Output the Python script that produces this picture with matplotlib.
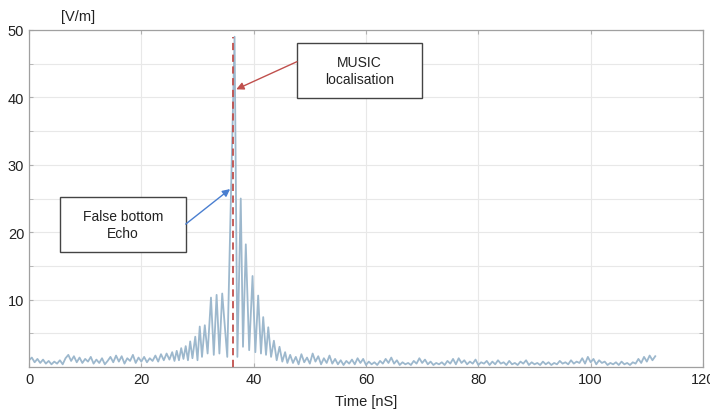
import matplotlib
matplotlib.use("Agg")
import matplotlib.pyplot as plt
from matplotlib.patches import Rectangle
from matplotlib.ticker import MultipleLocator
import numpy as np

plt.rcParams['font.family'] = ['Liberation Sans', 'DejaVu Sans']

# early noise, 0 .. 25 ns every 0.5 ns
t_left = np.arange(0.0, 25.01, 0.5)
e_left = [1.0, 1.4, 0.7, 1.2, 0.6, 1.1, 0.5, 0.9, 0.4, 0.8,
          0.5, 1.0, 0.4, 1.3, 1.8, 0.9, 1.6, 0.7, 1.4, 0.6,
          1.2, 0.8, 1.5, 0.5, 1.1, 0.6, 1.3, 0.4, 0.9, 1.5,
          0.7, 1.7, 0.8, 1.6, 0.5, 1.3, 0.9, 1.8, 0.6, 1.4,
          0.8, 1.5, 0.7, 1.3, 0.9, 1.7, 0.8, 1.9, 1.0, 2.0,
          1.1]

# echo region, peaks and troughs
t_mid = [25.5, 25.9, 26.3, 26.7, 27.1, 27.5, 27.9, 28.3, 28.7, 29.1,
         29.6, 30.0, 30.4, 30.8, 31.3, 31.8, 32.4, 32.9, 33.4, 33.9,
         34.4, 35.3, 36.6, 37.1, 37.7, 38.1, 38.6, 39.2, 39.8, 40.3,
         40.8, 41.3, 41.7, 42.2, 42.6, 43.1, 43.6, 44.1, 44.6, 45.1,
         45.6, 46.0]
e_mid = [2.2, 0.9, 2.4, 1.0, 2.8, 1.2, 3.1, 1.0, 3.8, 1.3,
         4.5, 1.0, 6.0, 1.5, 6.2, 2.0, 10.3, 1.8, 10.7, 2.0,
         10.9, 1.5, 49.0, 1.5, 25.0, 3.0, 18.2, 2.5, 13.5, 2.2,
         10.6, 2.0, 7.4, 1.8, 5.9, 1.5, 3.9, 1.0, 3.0, 0.8,
         2.2, 0.6]

# late noise, 46.5 .. 111.5 ns every 0.5 ns
t_right = np.arange(46.5, 111.51, 0.5)
e_right = [1.8, 0.6, 1.5, 0.4, 1.9, 0.7, 1.4, 0.5, 2.0, 0.8,
           1.6, 0.4, 1.3, 0.6, 1.7, 0.5, 1.2, 0.4,
           1.0, 0.3, 0.9, 0.5, 1.1, 0.4, 1.3, 0.6, 1.2, 0.3,
           0.8, 0.4, 0.7, 0.3, 0.9, 0.5, 1.2, 0.6, 1.4, 0.5,
           1.0, 0.3, 0.7, 0.4, 0.6, 0.3, 0.9, 0.5, 1.3, 0.6,
           1.1, 0.4, 0.8, 0.3, 0.6, 0.4, 0.7, 0.3, 0.9, 0.5,
           1.2, 0.4, 1.3, 0.6, 1.0, 0.4, 0.8, 0.5, 1.1, 0.3,
           0.7, 0.5, 0.9, 0.3, 0.8, 0.4, 1.0, 0.5, 0.7, 0.3,
           0.9, 0.4, 0.6, 0.3, 0.8, 0.5, 1.0, 0.3, 0.7, 0.4,
           0.6, 0.3, 0.8, 0.4, 0.7, 0.3, 0.6, 0.4, 0.9, 0.5,
           0.7, 0.4, 1.0, 0.5, 0.8, 0.6, 1.3, 0.5, 1.5, 0.7,
           1.2, 0.4, 1.0, 0.6, 0.8, 0.3, 0.6, 0.4, 0.7, 0.3,
           0.8, 0.4, 0.6, 0.3, 0.7, 0.5, 1.2, 0.6, 1.5, 0.8,
           1.7, 1.0, 1.6]

music_t = 36.3
music_top = 49.0

t = np.concatenate([t_left, t_mid, t_right])
e = np.concatenate([e_left, e_mid, e_right])

fig = plt.figure(figsize=(7.1, 4.1), dpi=100)
ax = fig.add_axes([29 / 710, 42 / 410, 674 / 710, 337 / 410])

ax.plot(t, e, color='#9db8cd', lw=1.3, zorder=2)
ax.vlines(music_t, 0, music_top, colors='#c0504d', linestyles=(0, (4, 2.5)),
          lw=1.3, zorder=3)

ax.set_xlim(0, 120)
ax.set_ylim(0, 50)
ax.xaxis.set_major_locator(MultipleLocator(20))
ax.yaxis.set_major_locator(MultipleLocator(10))
ax.yaxis.set_minor_locator(MultipleLocator(5))
ax.set_yticks([10, 20, 30, 40, 50])
ax.grid(True, which='both', color='#e8e8e8', lw=0.8, zorder=0)
ax.tick_params(which='both', direction='in', top=True, right=True,
               length=3, color='#b0b0b0', labelsize=10.5, labelcolor='#222222')
for s in ax.spines.values():
    s.set_color('#a0a0a0')
    s.set_linewidth(0.9)
ax.set_xlabel('Time [nS]', fontsize=10.5, color='#222222', labelpad=6)
fig.text(78 / 710, 1 - 17 / 410, '[V/m]', fontsize=10.5, color='#222222',
         ha='center', va='center')

# annotation boxes
ax.add_patch(Rectangle((47.7, 39.9), 22.3, 8.2, facecolor='white',
                       edgecolor='#444444', lw=1.0, zorder=4))
ax.text(58.85, 44.0, 'MUSIC\nlocalisation', ha='center', va='center',
        fontsize=10, color='#222222', zorder=5, linespacing=1.2)
ax.add_patch(Rectangle((5.6, 17.1), 22.3, 8.1, facecolor='white',
                       edgecolor='#444444', lw=1.0, zorder=4))
ax.text(16.75, 21.15, 'False bottom\nEcho', ha='center', va='center',
        fontsize=10, color='#222222', zorder=5, linespacing=1.2)

ax.annotate('', xy=(36.9, 41.2), xytext=(47.7, 45.3),
            arrowprops=dict(arrowstyle='-|>', color='#c0504d', lw=1.0,
                            mutation_scale=11, shrinkA=0, shrinkB=0), zorder=5)
ax.annotate('', xy=(35.8, 26.4), xytext=(27.9, 21.2),
            arrowprops=dict(arrowstyle='-|>', color='#4a7fd0', lw=1.0,
                            mutation_scale=11, shrinkA=0, shrinkB=0), zorder=5)

fig.savefig('out.png', dpi=100)
